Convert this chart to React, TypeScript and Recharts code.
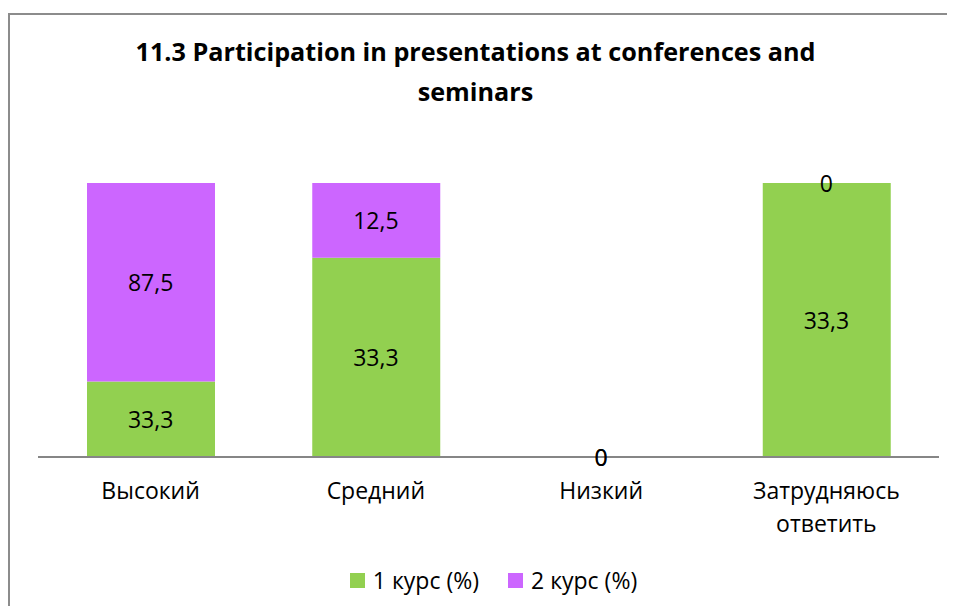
import React from "react";
import { ComposedChart, Bar, XAxis, YAxis, Scatter } from "recharts";

const categories = ["Высокий", "Средний", "Низкий", "Затрудняюсь ответить"];
const course1 = [33.3, 33.3, 0, 33.3];
const course2 = [87.5, 12.5, 0, 0];
const seriesNames = ["1 курс (%)", "2 курс (%)"];
const titleLines = ["11.3 Participation in presentations at conferences and", "seminars"];

const GREEN = "#92D050";
const PURPLE = "#CC66FF";
const FONT = "'Open Sans', 'Noto Sans', sans-serif";
const FS = 23;

const data = categories.map((c, i) => ({ name: c, s1: course1[i], s2: course2[i] }));

// label anchor points: centre of every stacked segment, in the chart's own (expanded) value space
const labelPoints = categories.flatMap((c, i) => {
  const total = course1[i] + course2[i];
  const frac = (v: number) => (total === 0 ? 0 : v / total);
  return [
    { name: c, y: frac(course1[i] / 2), v: course1[i] },
    { name: c, y: frac(course1[i] + course2[i] / 2), v: course2[i] },
  ];
});

const fmt = (v: number) => String(v).replace(".", ",");

const LabelShape = (props: any) => {
  const { cx, cy, payload } = props;
  if (cx == null || cy == null) return null;
  return (
    <text
      x={cx}
      y={cy}
      textAnchor="middle"
      dominantBaseline="central"
      fontFamily={FONT}
      fontSize={FS}
      fill="#000"
    >
      {fmt(payload.v)}
    </text>
  );
};

const Tick = (props: any) => {
  const { x, y, payload } = props;
  const words: string[] = String(payload.value).split(" ");
  return (
    <g>
      {words.map((w, i) => (
        <text
          key={i}
          x={x}
          y={y + 34 + i * 33}
          textAnchor="middle"
          fontFamily={FONT}
          fontSize={FS}
          fill="#000"
        >
          {w}
        </text>
      ))}
    </g>
  );
};

export default function App() {
  return (
    <div style={{ position: "relative", width: 947, height: 598, overflow: "hidden" }}>
      <div
        style={{
          position: "absolute",
          left: 0,
          top: 5,
          width: 960,
          height: 620,
          borderLeft: "2px solid #8c8c8c",
          borderTop: "2px solid #8c8c8c",
          boxSizing: "border-box",
          background: "#fff",
        }}
      >
        <div
          style={{
            position: "absolute",
            left: 0,
            top: 16,
            width: 931,
            textAlign: "center",
            fontFamily: FONT,
            fontWeight: 700,
            fontSize: 25.2,
            lineHeight: "40px",
            color: "#000",
          }}
        >
          {titleLines.map((l, i) => (
            <div key={i}>{l}</div>
          ))}
        </div>
        <ComposedChart
          width={950}
          height={595}
          data={data}
          stackOffset="expand"
          margin={{ top: 168, right: 21, left: 28, bottom: 123 }}
          barSize={128}
        >
          <XAxis
            dataKey="name"
            type="category"
            allowDuplicatedCategory={false}
            tick={<Tick />}
            tickLine={false}
            axisLine={{ stroke: "#868686", strokeWidth: 2 }}
            interval={0}
          />
          <YAxis hide domain={[0, 1]} />
          <Bar dataKey="s1" stackId="a" fill={GREEN} isAnimationActive={false} />
          <Bar dataKey="s2" stackId="a" fill={PURPLE} isAnimationActive={false} />
          <Scatter data={labelPoints} dataKey="y" shape={<LabelShape />} isAnimationActive={false} />
        </ComposedChart>
        <div
          style={{
            position: "absolute",
            left: 16,
            top: 549,
            width: 935,
            display: "flex",
            justifyContent: "center",
            alignItems: "center",
            fontFamily: FONT,
            fontSize: FS,
            color: "#000",
          }}
        >
          {seriesNames.map((n, i) => (
            <div key={i} style={{ display: "flex", alignItems: "center", marginRight: i === 0 ? 29 : 0 }}>
              <span
                style={{
                  display: "inline-block",
                  width: 15,
                  height: 15,
                  background: i === 0 ? GREEN : PURPLE,
                  marginRight: 8,
                }}
              />
              <span>{n}</span>
            </div>
          ))}
        </div>
      </div>
    </div>
  );
}
